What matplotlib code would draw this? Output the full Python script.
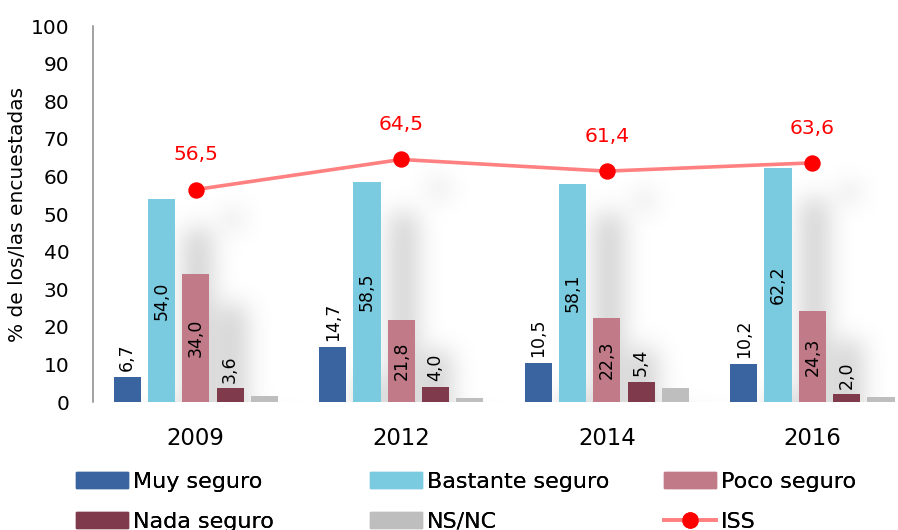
import numpy as np
import matplotlib
matplotlib.use("Agg")
import matplotlib.pyplot as plt
from matplotlib.patches import Patch
from matplotlib.lines import Line2D

# === datos ===
years = ["2009", "2012", "2014", "2016"]
series = ["Muy seguro", "Bastante seguro", "Poco seguro", "Nada seguro", "NS/NC"]
muy = [6.7, 14.7, 10.5, 10.2]
bastante = [54.0, 58.5, 58.1, 62.2]
poco = [34.0, 21.8, 22.3, 24.3]
nada = [3.6, 4.0, 5.4, 2.0]
nsnc = [1.6, 1.0, 3.7, 1.4]
iss = [56.5, 64.5, 61.4, 63.6]

colors = ["#3A64A0", "#7BCBE0", "#C07A88", "#7F3B4B", "#BEBEBE"]
line_color = "#FF8080"
dot_color = "#FF0000"

plt.rcParams["font.family"] = ["DejaVu Sans"]

W, H = 898, 530
fig = plt.figure(figsize=(W / 100, H / 100), dpi=100)
ax = fig.add_axes([93 / W, 128 / H, 805 / W, 376 / H])

x = np.arange(len(years))
step = 0.167
width = 0.132
values = [muy, bastante, poco, nada, nsnc]

containers = []
for i, vals in enumerate(values):
    bc = ax.bar(x + (i - 2) * step, vals, width, color=colors[i], zorder=3)
    containers.append(bc)

ax.plot(x, iss, color=line_color, lw=2.6, zorder=4)
ax.plot(x, iss, "o", color=dot_color, ms=10.8, zorder=5)

ax.set_xlim(-0.5, 3.417)
ax.set_ylim(0, 100)

# === etiquetas ===
def fmt(v):
    return f"{v:.1f}".replace(".", ",")

for i, vals in enumerate(values):
    for xi, v in zip(x + (i - 2) * step, vals):
        if i in (0, 3):
            ax.annotate(fmt(v), (xi, v), xytext=(0, 4), textcoords="offset points",
                        rotation=90, ha="center", va="bottom", fontsize=12.5, zorder=6)
        elif i in (1, 2):
            ax.text(xi, v / 2, fmt(v), rotation=90, ha="center", va="center",
                    fontsize=12.5, zorder=6)

for xi, v in zip(x, iss):
    ax.annotate(fmt(v), (xi, v), xytext=(0, 25), textcoords="offset points",
                ha="center", va="center", fontsize=14.6, color=dot_color, zorder=6)

# === sombra difusa (desplazada + desenfocada) ===
mask = np.zeros((H, W))
yy, xx = np.mgrid[0:H, 0:W]
for bc in containers:
    for rect in bc:
        bb = rect.get_window_extent()
        mask[int(bb.y0):int(bb.y1), int(bb.x0):int(bb.x1)] = 1.0
pts = ax.transData.transform(np.column_stack([x, iss]))
for px, py in pts:
    mask[(xx - px) ** 2 + (yy - py) ** 2 <= 8 ** 2] = 1.0
mask = np.roll(mask, (-30, 37), axis=(0, 1))

sigma = 12
r = int(3 * sigma)
k = np.exp(-0.5 * (np.arange(-r, r + 1) / sigma) ** 2)
k /= k.sum()
tmp = np.pad(mask, ((0, 0), (r, r)))
tmp = sum(k[j] * tmp[:, j:j + W] for j in range(2 * r + 1))
tmp = np.pad(tmp, ((r, r), (0, 0)))
blur = sum(k[j] * tmp[j:j + H, :] for j in range(2 * r + 1))

crop = blur[128:504, 93:898]
rgba = np.zeros(crop.shape + (4,))
rgba[..., :3] = 0.55
rgba[..., 3] = np.clip(crop, 0, 1) * 0.4
ax.imshow(rgba, extent=(0, 1, 0, 1), transform=ax.transAxes, origin="lower",
          aspect="auto", interpolation="bilinear", zorder=1)
ax.set_xlim(-0.5, 3.417)
ax.set_ylim(0, 100)

# === ejes ===
for s in ["top", "right", "bottom"]:
    ax.spines[s].set_visible(False)
ax.spines["left"].set_color("#888888")
ax.spines["left"].set_linewidth(1.1)

ax.set_yticks(range(0, 101, 10))
ax.tick_params(axis="y", length=0, pad=17, labelsize=14.5)
ax.set_xticks(x)
ax.set_xticklabels(years, fontsize=16.4)
ax.tick_params(axis="x", length=0, pad=18)
ax.set_ylabel("% de los/las encuestadas", fontsize=14.5)
ax.yaxis.set_label_coords(-0.082, 0.5)

# === leyenda ===
handles = [Patch(color=c) for c in colors] + [
    Line2D([], [], color=line_color, lw=2.6, marker="o", ms=10.8,
           markerfacecolor=dot_color, markeredgecolor=dot_color)]
labels = series + ["ISS"]
cols = [(0, 3), (1, 4), (2, 5)]
col_x = [76, 370, 664]
for (a, b), cx in zip(cols, col_x):
    leg = fig.legend([handles[a], handles[b]], [labels[a], labels[b]],
                     loc="center left", bbox_to_anchor=(cx / W, 1 - 501.5 / H),
                     frameon=False, borderpad=0, borderaxespad=0,
                     handlelength=2.34, handleheight=0.72, handletextpad=0.22,
                     labelspacing=0.9, fontsize=16)
    fig.add_artist(leg)

plt.savefig("out.png", dpi=100)
plt.close()
